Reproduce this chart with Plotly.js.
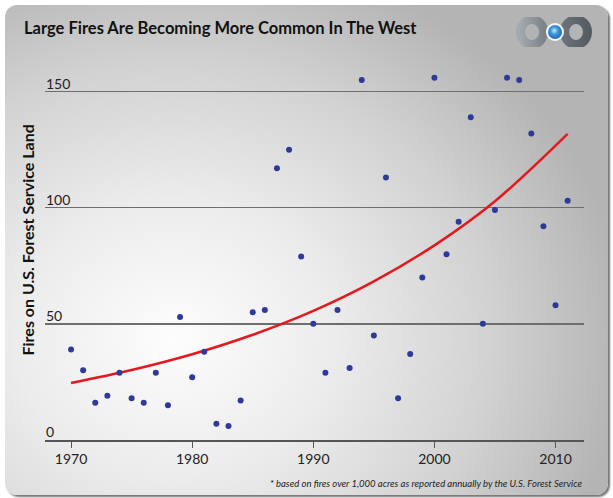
<!DOCTYPE html>
<html>
<head>
<meta charset="utf-8">
<script src="https://cdn.plot.ly/plotly-3.0.1.min.js"></script>
<style>
  html, body { margin: 0; padding: 0; background: #ffffff; width: 613px; height: 498px; overflow: hidden; }
  #card {
    position: absolute; left: 5px; top: 5px; width: 603px; height: 490px;
    border-radius: 12px;
    background: radial-gradient(ellipse 75% 80% at 28% 68%, #fdfdfd 0%, #ececec 35%, #d2d2d2 70%, #b4b4b4 100%);
    box-shadow: 2px 2px 2px rgba(0,0,0,0.55);
  }
  #chart { position: absolute; left: 0; top: 0; width: 613px; height: 498px; }
  #logo { position: absolute; left: 510px; top: 10px; }
</style>
</head>
<body>
<div id="card"></div>
<div id="chart"></div>
<svg id="logo" width="90" height="44" viewBox="0 0 90 44">
  <defs>
    <radialGradient id="blue" cx="45%" cy="40%" r="60%">
      <stop offset="0%" stop-color="#cfeafc"/>
      <stop offset="45%" stop-color="#3d95dc"/>
      <stop offset="100%" stop-color="#1f6bb5"/>
    </radialGradient>
    <linearGradient id="ringL" x1="0" y1="0" x2="1" y2="0">
      <stop offset="0%" stop-color="#a3a9ae"/>
      <stop offset="100%" stop-color="#7c8389"/>
    </linearGradient>
    <linearGradient id="ringR" x1="0" y1="0" x2="1" y2="0">
      <stop offset="0%" stop-color="#6a7178"/>
      <stop offset="100%" stop-color="#555c63"/>
    </linearGradient>
    <filter id="soft"><feGaussianBlur stdDeviation="0.6"/></filter>
  </defs>
  <g filter="url(#soft)">
    <ellipse cx="22" cy="22" rx="11.5" ry="12.5" fill="none" stroke="url(#ringL)" stroke-width="9"/>
    <ellipse cx="66" cy="22" rx="11.5" ry="12.5" fill="none" stroke="url(#ringR)" stroke-width="9"/>
  </g>
  <circle cx="45" cy="22" r="9" fill="#ffffff" opacity="0.95"/>
  <circle cx="45" cy="22" r="7" fill="url(#blue)"/>
</svg>
<script>
// Data
const years = [1970,1971,1972,1973,1974,1975,1976,1977,1978,1979,
               1980,1981,1982,1983,1984,1985,1986,1987,1988,1989,
               1990,1991,1992,1993,1994,1995,1996,1997,1998,1999,
               2000,2001,2002,2003,2004,2005,2006,2007,2008,2009,
               2010,2011];
const fires = [39,30,16,19,29,18,16,29,15,53,
               27,38,7,6,17,55,56,117,125,79,
               50,29,56,31,155,45,113,18,37,70,
               156,80,94,139,50,99,156,155,132,92,
               58,103];
// Trend curve
const trendYears = [1970,1975,1980,1985,1990,1995,2000,2005,2011];
const trendValues = [24.5,30.1,36.9,45.3,55.6,68.3,83.8,102.8,131.8];

const xTicks = [1970,1980,1990,2000,2010];
const xTickLabels = ['1970','1980','1990','2000','2010'];
const yTicks = [0,50,100,150];
const yTickLabels = ['0','50','100','150'];

const FONT = 'Lato, "Open Sans", sans-serif';

const traces = [
  {
    x: trendYears, y: trendValues, type: 'scatter', mode: 'lines',
    line: {color: '#e3191f', width: 2.5, shape: 'spline', smoothing: 1},
    hoverinfo: 'skip', showlegend: false
  },
  {
    x: years, y: fires, type: 'scatter', mode: 'markers',
    marker: {color: '#2e3a9a', size: 6},
    showlegend: false
  }
];

const annotations = yTicks.map((v, i) => ({
  x: 0, xref: 'paper', y: v, yref: 'y',
  text: yTickLabels[i], showarrow: false,
  xanchor: 'left', yanchor: 'bottom', yshift: -2, xshift: -1,
  font: {family: FONT, size: 14, color: '#222'}
}));
annotations.push({
  x: -18/539, xref: 'paper', y: 0.525, yref: 'paper',
  text: '<b>Fires on U.S. Forest Service Land</b>', textangle: -90,
  showarrow: false, xanchor: 'center', yanchor: 'middle',
  font: {family: FONT, size: 16, color: '#111'}
});
annotations.push({
  x: 1, xref: 'paper', y: -0.115, yref: 'paper',
  text: '<i>* based on fires over 1,000 acres as reported annually by the U.S. Forest Service</i>',
  showarrow: false, xanchor: 'right', yanchor: 'middle',
  font: {family: FONT, size: 9.5, color: '#222'}
});

const layout = {
  width: 613, height: 498,
  paper_bgcolor: 'rgba(0,0,0,0)', plot_bgcolor: 'rgba(0,0,0,0)',
  margin: {l: 45, r: 29, t: 60, b: 58},
  title: {
    text: '<b>Large Fires Are Becoming More Common In The West</b>',
    x: 24/613, xanchor: 'left', y: 1 - 28/498, yanchor: 'middle',
    font: {family: FONT, size: 16.5, color: '#111'}
  },
  xaxis: {
    range: [1967.85, 2012.35], tickvals: xTicks, ticktext: xTickLabels,
    showgrid: false, zeroline: false,
    showline: true, linecolor: '#555', linewidth: 1.5,
    ticks: 'outside', ticklen: 6, tickcolor: '#555', tickwidth: 1,
    tickfont: {family: FONT, size: 14, color: '#222'},
    fixedrange: true
  },
  yaxis: {
    range: [0, 163.6], tickvals: yTicks, showticklabels: false,
    showgrid: true, gridcolor: '#6e6e6e', gridwidth: 1.5,
    zeroline: true, zerolinecolor: '#555', zerolinewidth: 1.5,
    showline: false, ticks: '', fixedrange: true
  },
  annotations: annotations,
  showlegend: false
};

Plotly.newPlot('chart', traces, layout, {displayModeBar: false, staticPlot: true});
</script>
</body>
</html>
